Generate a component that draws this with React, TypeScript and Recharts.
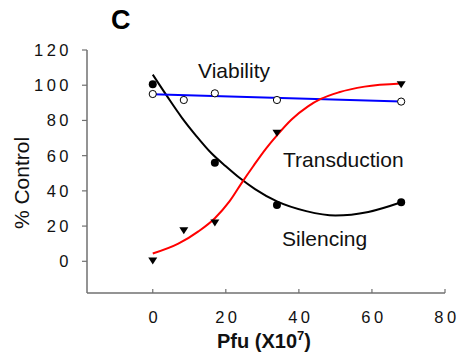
import React from 'react';
import { ComposedChart, Line, Scatter, XAxis, YAxis } from 'recharts';

const xTicks = [0, 20, 40, 60, 80];
const yTicks = [0, 20, 40, 60, 80, 100, 120];

// measured points
const silencingDose = [0, 17, 34, 68];
const silencingValues = [100.5, 56, 32, 33.5];
const viabilityDose = [0, 8.5, 17, 34, 68];
const viabilityValues = [95, 91.6, 95.4, 91.6, 90.7];
const transductionDose = [0, 8.5, 17, 34, 68];
const transductionValues = [0.5, 17.7, 22, 73, 100.5];

// fitted curves
const silencingFitDose = [0, 4, 8, 12, 16, 20, 24, 28, 34, 42, 50, 59, 68];
const silencingFitValues = [106, 93.5, 81.5, 71, 61.5, 54, 47, 41, 34, 28.5, 26, 28, 33.5];
const viabilityFitDose = [0, 68];
const viabilityFitValues = [94.8, 90.7];
const transductionFitDose = [0, 7, 12.5, 17, 21, 24.5, 27.5, 31, 34, 38, 42.5, 46, 51, 58, 68];
const transductionFitValues = [4.4, 10, 17, 24.5, 34, 45, 54, 64, 71.5, 80.5, 88, 92.2, 96, 99.2, 101];

const zip = (xs: number[], ys: number[]) => xs.map((x, i) => ({ x, y: ys[i] }));

const FONT = '"Liberation Sans", Arial, sans-serif';
const AXIS_COLOR = '#707070';

const XTick = (props: any) => {
  const { x, y, payload } = props;
  return (
    <g>
      <line x1={x} x2={x} y1={y} y2={y - 4} stroke={AXIS_COLOR} strokeWidth={1.2} />
      <text x={x + 2} y={y + 30} textAnchor="middle" fontFamily={FONT} fontSize={16.5} letterSpacing={3.5} fill="#111">
        {payload.value}
      </text>
    </g>
  );
};

const YTick = (props: any) => {
  const { x, y, payload } = props;
  return (
    <g>
      <line x1={x - 5} x2={x} y1={y} y2={y} stroke={AXIS_COLOR} strokeWidth={1.2} />
      <text x={x - 15} y={y} dy="0.36em" textAnchor="end" fontFamily={FONT} fontSize={16.5} letterSpacing={3.5} fill="#111">
        {payload.value}
      </text>
    </g>
  );
};

const FilledDot = (p: any) => <circle cx={p.cx} cy={p.cy} r={4} fill="#000" />;
const OpenDot = (p: any) => <circle cx={p.cx} cy={p.cy} r={3.6} fill="#fff" stroke="#000" strokeWidth={1} />;
const DownTri = (p: any) => (
  <polygon
    points={`${p.cx - 4.5},${p.cy - 3} ${p.cx + 4.5},${p.cy - 3} ${p.cx},${p.cy + 4}`}
    fill="#000"
  />
);

export default function App() {
  return (
    <div style={{ position: 'absolute', left: 0, top: 0, width: 466, height: 360, background: '#fff' }}>
      <ComposedChart
        width={466}
        height={360}
        margin={{ top: 50, right: 21, bottom: 27, left: 27 }}
      >
        <XAxis
          dataKey="x"
          type="number"
          domain={[-18, 80]}
          ticks={xTicks}
          allowDataOverflow
          height={40}
          tickSize={0}
          tickMargin={0}
          tickLine={false}
          tick={(p: any) => <XTick {...p} />}
          axisLine={{ stroke: AXIS_COLOR, strokeWidth: 1.5 }}
        />
        <YAxis
          dataKey="y"
          type="number"
          domain={[-18, 120]}
          ticks={yTicks}
          allowDataOverflow
          width={60}
          tickSize={0}
          tickMargin={0}
          tickLine={false}
          tick={(p: any) => <YTick {...p} />}
          axisLine={{ stroke: AXIS_COLOR, strokeWidth: 1.5 }}
        />
        <Scatter data={zip(silencingDose, silencingValues)} dataKey="y" shape={(p: any) => <FilledDot {...p} />} isAnimationActive={false} />
        <Scatter data={zip(viabilityDose, viabilityValues)} dataKey="y" shape={(p: any) => <OpenDot {...p} />} isAnimationActive={false} />
        <Scatter data={zip(transductionDose, transductionValues)} dataKey="y" shape={(p: any) => <DownTri {...p} />} isAnimationActive={false} />
        <Line data={zip(silencingFitDose, silencingFitValues)} dataKey="y" type="monotone" stroke="#000" strokeWidth={2} dot={false} isAnimationActive={false} />
        <Line data={zip(viabilityFitDose, viabilityFitValues)} dataKey="y" type="linear" stroke="#0000ff" strokeWidth={2} dot={false} isAnimationActive={false} />
        <Line data={zip(transductionFitDose, transductionFitValues)} dataKey="y" type="monotone" stroke="#ff0000" strokeWidth={2} dot={false} isAnimationActive={false} />
      </ComposedChart>
      <svg width={466} height={360} style={{ position: 'absolute', left: 0, top: 0, pointerEvents: 'none' }}>
        <text x={111} y={28.5} fontFamily={FONT} fontSize={27} fontWeight="bold" fill="#000">C</text>
        <text x={198} y={78} fontFamily={FONT} fontSize={21} fill="#111">Viability</text>
        <text x={283} y={167} fontFamily={FONT} fontSize={21} fill="#111">Transduction</text>
        <text x={282} y={246} fontFamily={FONT} fontSize={21} fill="#111">Silencing</text>
        <text x={29} y={183} transform="rotate(-90 29 183)" textAnchor="middle" fontFamily={FONT} fontSize={21} fill="#111">% Control</text>
        <text x={217} y={348} fontFamily={FONT} fontSize={20} fontWeight="bold" fill="#111">
          Pfu (X10<tspan fontSize={13} dy={-8}>7</tspan><tspan dy={8}>)</tspan>
        </text>
      </svg>
    </div>
  );
}
